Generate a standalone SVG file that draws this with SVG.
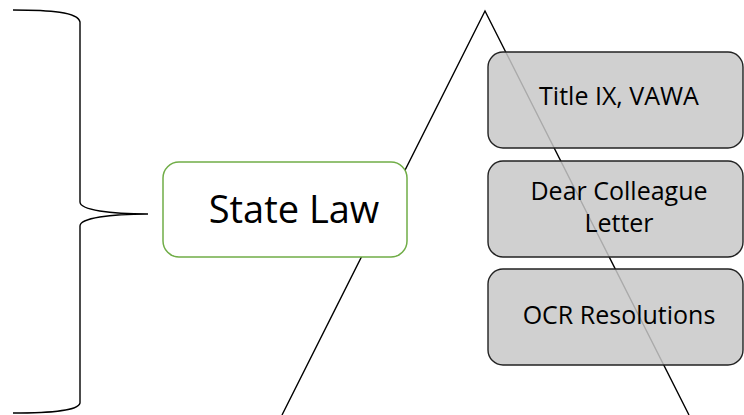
<svg xmlns="http://www.w3.org/2000/svg" width="744" height="415" viewBox="0 0 744 415">
<style>
.ln{fill:none;stroke:#000;stroke-width:1.4}
.gbox{fill:#c8c8c8;fill-opacity:0.85;stroke:#222;stroke-width:1.4}
.t{font-family:"Open Sans","Liberation Sans",sans-serif;fill:#000;text-anchor:middle}
</style>
<rect width="744" height="415" fill="#fff"/>
<g id="connectors">
<path id="brace" class="ln" d="M13,10 C50,10 78,12 80,22 L80,202 C80,210 110,214 148,214 C110,214 80,218 80,226 L80,403 C78,411 50,413 13,413"/>
<path id="triangle" class="ln" d="M282,415 L485,11 L689,415"/>
</g>
<g id="state-law">
<rect x="163" y="162" width="244" height="95" rx="16" fill="#fff" stroke="#70ad47" stroke-width="1.5"/>
<text class="t" x="294" y="223" font-size="38">State Law</text>
</g>
<g id="title-ix">
<rect class="gbox" x="488" y="52" width="255" height="96" rx="15"/>
<text class="t" x="619" y="105" font-size="25">Title IX, VAWA</text>
</g>
<g id="dear-colleague">
<rect class="gbox" x="488" y="161" width="255" height="96" rx="15"/>
<text class="t" x="619" y="200" font-size="25">Dear Colleague</text>
<text class="t" x="619" y="232" font-size="25">Letter</text>
</g>
<g id="ocr">
<rect class="gbox" x="488" y="269" width="255" height="96" rx="15"/>
<text class="t" x="619" y="324" font-size="25">OCR Resolutions</text>
</g>
</svg>
